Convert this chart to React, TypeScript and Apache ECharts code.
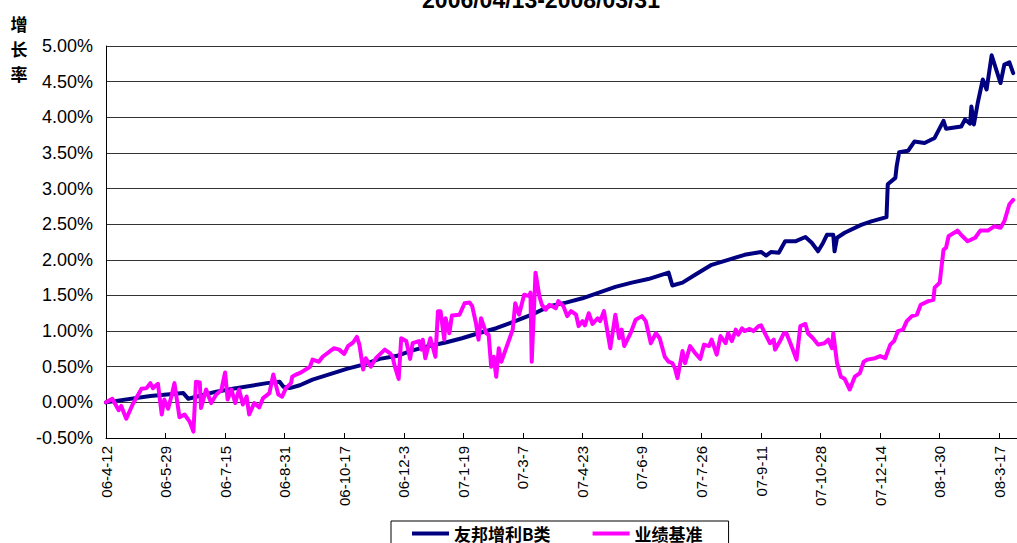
import React, { useEffect, useRef } from "react";
import * as echarts from "echarts";

const titleText = "2006/04/13-2008/03/31";
const yAxisName = "增长率";
const fundName = "友邦增利B类";
const benchName = "业绩基准";

// x tick labels, one every 47 days starting 2006-04-12
const xTickLabels = [
  "06-4-12", "06-5-29", "06-7-15", "06-8-31", "06-10-17", "06-12-3", "07-1-19", "07-3-7",
  "07-4-23", "07-6-9", "07-7-26", "07-9-11", "07-10-28", "07-12-14", "08-1-30", "08-3-17",
];
const dayStep = 47;
const dayMax = 719; // 2008-03-31
const yMin = -0.5;
const yMax = 5;
const yStep = 0.5;

// days since 2006-04-12, growth in %
const fundDays = [
  0, 35, 61, 65, 87, 100, 127, 137, 140, 145, 153, 163, 190, 203, 216, 229, 242, 255, 268, 281,
  294, 308, 323, 336, 350, 363, 376, 389, 402, 415, 428, 444, 447, 455, 465, 478, 491, 504, 517, 521,
  525, 531, 536, 544, 552, 557, 562, 566, 569, 574, 575, 577, 583, 596, 604, 616, 617, 623, 624, 626,
  633, 638, 646, 654, 661, 663, 675, 678, 682, 683, 685, 688, 692, 695, 699, 706, 709, 713, 716,
];
const fundValues = [
  0.0, 0.09, 0.13, 0.05, 0.15, 0.19, 0.27, 0.29, 0.22, 0.2, 0.24, 0.32, 0.47, 0.53, 0.61, 0.65, 0.73, 0.79, 0.84, 0.9,
  0.97, 1.04, 1.14, 1.23, 1.35, 1.4, 1.46, 1.54, 1.62, 1.68, 1.73, 1.82, 1.64, 1.68, 1.79, 1.93, 2.0, 2.07, 2.11, 2.06,
  2.11, 2.1, 2.26, 2.26, 2.32, 2.24, 2.12, 2.24, 2.35, 2.35, 2.12, 2.31, 2.38, 2.49, 2.54, 2.6, 3.06, 3.15, 3.31, 3.51,
  3.53, 3.66, 3.64, 3.71, 3.95, 3.84, 3.87, 3.97, 3.91, 4.15, 3.9, 4.2, 4.53, 4.39, 4.87, 4.48, 4.74, 4.77, 4.62,
];

const benchDays = [
  0, 5, 10, 12, 16, 21, 28, 32, 35, 37, 41, 44, 46, 49, 52, 54, 58, 62, 66, 69,
  71, 74, 75, 79, 83, 87, 91, 94, 96, 99, 102, 105, 108, 111, 113, 117, 121, 124, 129, 132,
  136, 139, 142, 146, 147, 150, 154, 161, 163, 168, 171, 180, 184, 188, 191, 195, 198, 200, 203, 205,
  209, 213, 220, 224, 226, 228, 231, 233, 237, 240, 242, 247, 249, 250, 252, 256, 260, 262, 264, 267,
  268, 271, 273, 279, 283, 287, 289, 292, 294, 296, 300, 302, 304, 306, 308, 310, 312, 321, 323, 326,
  330, 334, 335, 336, 339, 342, 344, 347, 350, 355, 357, 361, 364, 367, 371, 373, 376, 378, 381, 384,
  388, 390, 393, 395, 398, 402, 405, 407, 409, 414, 418, 423, 426, 430, 434, 437, 441, 444, 447, 449,
  451, 455, 457, 461, 465, 469, 472, 476, 478, 482, 485, 489, 491, 494, 497, 499, 502, 504, 508, 511,
  515, 517, 520, 524, 527, 528, 532, 535, 537, 541, 545, 548, 552, 554, 558, 562, 567, 570, 573, 574,
  577, 580, 583, 587, 591, 595, 598, 601, 607, 611, 615, 619, 622, 625, 629, 632, 636, 640, 643, 649,
  653, 654, 658, 661, 663, 665, 672, 676, 680, 686, 690, 696, 701, 706, 709, 713, 716,
];
const benchValues = [
  0.0, 0.05, -0.11, -0.05, -0.23, -0.03, 0.19, 0.2, 0.27, 0.2, 0.26, -0.17, 0.04, -0.09, 0.11, 0.27, -0.21, -0.17, -0.27, -0.41,
  0.29, 0.28, -0.08, 0.18, -0.01, 0.11, 0.17, 0.42, 0.04, 0.18, -0.01, 0.18, -0.03, 0.08, -0.17, -0.01, -0.07, 0.06, 0.13, 0.39,
  0.11, 0.08, 0.2, 0.27, 0.36, 0.39, 0.42, 0.5, 0.6, 0.57, 0.64, 0.76, 0.74, 0.68, 0.79, 0.84, 0.92, 0.81, 0.46, 0.62,
  0.5, 0.62, 0.74, 0.69, 0.65, 0.5, 0.33, 0.9, 0.86, 0.61, 0.83, 0.86, 0.74, 0.88, 0.62, 0.9, 0.64, 1.28, 1.28, 0.88,
  1.18, 0.97, 1.22, 1.23, 1.39, 1.4, 1.35, 1.11, 0.88, 1.18, 0.97, 0.95, 0.5, 0.64, 0.36, 0.76, 0.57, 1.02, 1.39, 1.23,
  1.51, 1.49, 1.54, 0.57, 1.82, 1.49, 1.37, 1.3, 1.37, 1.32, 1.42, 1.35, 1.21, 1.28, 1.23, 1.07, 1.14, 1.08, 1.25, 1.1,
  1.18, 1.14, 1.28, 1.07, 0.76, 1.23, 0.9, 1.02, 0.79, 0.97, 1.16, 1.21, 1.14, 0.83, 0.97, 0.9, 0.64, 0.57, 0.55, 0.48,
  0.34, 0.72, 0.55, 0.79, 0.69, 0.61, 0.81, 0.79, 0.88, 0.67, 0.93, 0.83, 0.97, 0.86, 1.02, 0.95, 1.04, 1.0, 1.03, 1.0,
  1.07, 1.08, 0.97, 0.83, 0.88, 0.74, 0.86, 0.97, 0.97, 0.79, 0.6, 1.07, 1.1, 0.97, 0.9, 0.81, 0.83, 0.88, 0.76, 0.97,
  0.55, 0.36, 0.33, 0.18, 0.36, 0.41, 0.57, 0.6, 0.62, 0.65, 0.62, 0.81, 0.86, 1.0, 1.02, 1.14, 1.21, 1.23, 1.37, 1.42,
  1.44, 1.61, 1.68, 2.14, 2.17, 2.33, 2.41, 2.33, 2.26, 2.31, 2.41, 2.41, 2.47, 2.45, 2.54, 2.78, 2.84,
];

const LATIN = '"Liberation Sans", Arial, sans-serif';
const CJK = '"Noto Sans CJK SC", sans-serif';

export default function App() {
  const ref = useRef<HTMLDivElement>(null);
  useEffect(() => {
    if (!ref.current) return;
    const chart = echarts.init(ref.current, null, { renderer: "svg" });
    const fundData = fundDays.map((d, i) => [d, fundValues[i]]);
    const benchData = benchDays.map((d, i) => [d, benchValues[i]]);
    chart.setOption({
      animation: false,
      backgroundColor: "#ffffff",
      graphic: [
        {
          type: "text",
          x: 541,
          y: 11,
          style: {
            text: titleText,
            font: `bold 23px ${LATIN}`,
            fill: "#000",
            align: "center",
            verticalAlign: "bottom",
          },
        },
        {
          type: "text",
          x: 19,
          y: 11,
          style: {
            text: yAxisName.split("").join("\n"),
            font: `bold 17px ${CJK}`,
            lineHeight: 25,
            fill: "#000",
            align: "center",
            verticalAlign: "top",
          },
        },
      ],
      legend: {
        left: 391,
        top: 521,
        orient: "horizontal",
        icon: "rect",
        itemWidth: 37,
        itemHeight: 4,
        itemGap: 42,
        padding: [4, 26, 8, 21],
        borderColor: "#000",
        borderWidth: 1,
        backgroundColor: "#fff",
        textStyle: { fontFamily: CJK, fontWeight: "bold", fontSize: 17, color: "#000" },
        data: [fundName, benchName],
      },
      grid: { left: 106, top: 46, width: 913, height: 392 },
      xAxis: {
        type: "value",
        min: 0,
        max: dayMax,
        interval: dayStep,
        axisLine: { show: true, onZero: false, lineStyle: { color: "#000", width: 1 } },
        axisTick: { show: true, inside: true, length: 5, lineStyle: { color: "#000" } },
        splitLine: { show: false },
        axisLabel: {
          rotate: 90,
          margin: 8,
          color: "#000",
          fontFamily: LATIN,
          fontSize: 15,
          showMaxLabel: false,
          formatter: (v: number) => (v % dayStep === 0 ? xTickLabels[v / dayStep] ?? "" : ""),
        },
      },
      yAxis: {
        type: "value",
        min: yMin,
        max: yMax,
        interval: yStep,
        axisLine: { show: true, lineStyle: { color: "#000", width: 1 } },
        axisTick: { show: false },
        splitLine: { show: true, lineStyle: { color: "#333", width: 1 } },
        axisLabel: {
          margin: 13,
          color: "#000",
          fontFamily: LATIN,
          fontSize: 18,
          formatter: (v: number) => v.toFixed(2) + "%",
        },
      },
      series: [
        {
          name: fundName,
          type: "line",
          data: fundData,
          showSymbol: false,
          symbol: "none",
          color: "#000080",
          lineStyle: { color: "#000080", width: 4, cap: "round", join: "round" },
        },
        {
          name: benchName,
          type: "line",
          data: benchData,
          showSymbol: false,
          symbol: "none",
          color: "#FF00FF",
          lineStyle: { color: "#FF00FF", width: 4, cap: "round", join: "round" },
        },
      ],
    });
    return () => chart.dispose();
  }, []);
  return (
    <div
      ref={ref}
      style={{ position: "absolute", left: 0, top: 0, width: 1017, height: 543, background: "#fff" }}
    />
  );
}
